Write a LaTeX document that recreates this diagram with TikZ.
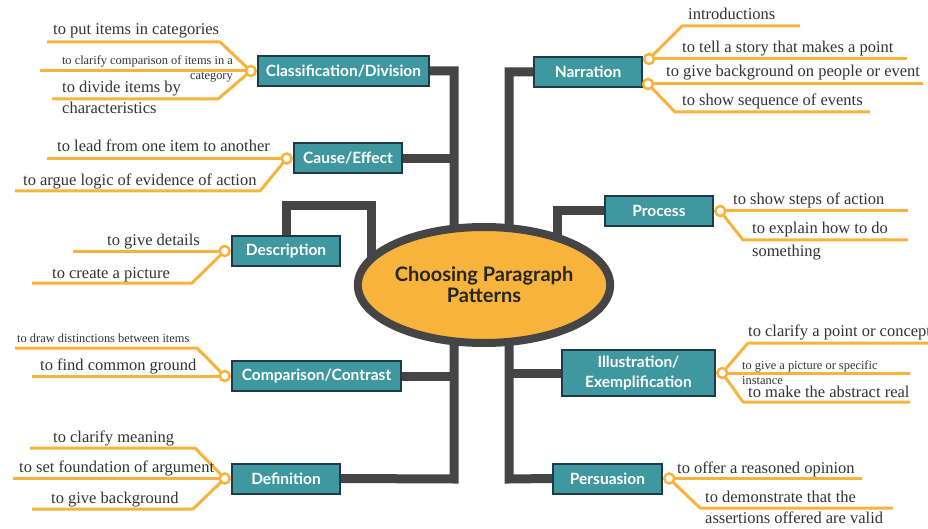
\documentclass[tikz,border=0pt]{standalone}
\usepackage{fontspec}
\setmainfont{Liberation Serif}
\newfontfamily\leaffont{Liberation Serif}
\newfontfamily\latofont{Lato}
\usetikzlibrary{shapes.geometric,positioning,backgrounds}
\definecolor{boxteal}{HTML}{3F989F}
\definecolor{boxedge}{HTML}{1D3B4C}
\definecolor{twigorange}{HTML}{F8B33D}
\definecolor{trunkgray}{HTML}{454545}
\definecolor{leafgray}{HTML}{333333}

\begin{document}
\begin{tikzpicture}[x=1pt,y=-1pt,
	topic/.style={draw=boxedge,line width=2pt,fill=boxteal,text=white,inner sep=0pt,
		font=\latofont\bfseries\fontsize{15.5}{20}\selectfont,minimum height=30pt,align=center},
	junc/.style={circle,draw=twigorange,fill=white,line width=2.5pt,minimum size=10pt,inner sep=0pt},
	trunk/.style={draw=trunkgray,line width=9pt},
	twig/.style={draw=twigorange,line width=3pt,line join=round},
	leaf/.style={anchor=base west,inner sep=0pt,text=leafgray,align=left,font=\leaffont\fontsize{16.5}{21}\selectfont},
	smallleaf/.style={leaf,font=\leaffont\fontsize{12.4}{15}\selectfont}]

\useasboundingbox (0,0) rectangle (928,529);

\node[ellipse,draw=trunkgray,line width=8pt,fill=twigorange,minimum width=250pt,minimum height=116pt,
	inner sep=0pt,align=center,text=black!85,font=\latofont\bfseries\fontsize{20}{21}\selectfont]
		(cp) at (484,285) {Choosing Paragraph\\Patterns};

\node[topic,minimum width=171pt] (cls) at (343.5,71)  {Classification/Division};
 \node[topic,minimum width=108pt] (cau) at (348,158.5) {Cause/Effect};
	\node[topic,minimum width=108pt] (des) at (286,251)   {Description};
\node[topic,minimum width=169pt] (cmp) at (316.5,376) {Comparison/Contrast};
	\node[topic,minimum width=108pt] (def) at (286,478.5) {Definition};
\node[topic,minimum width=108pt] (nar) at (588,72)    {Narration};
	\node[topic,minimum width=108pt] (pro) at (659,211)   {Process};
\node[topic,minimum width=153pt,minimum height=46pt] (ill) at (638.5,373) {Illustration/\\Exemplification};
	\node[topic,minimum width=109pt] (per) at (607.5,478.5) {Persuasion};

\node[junc] (jcl) [left=0pt of cls] {};
\node[junc] (jce) [left=0pt of cau] {};
\node[junc] (jde) [left=0pt of des] {};
\node[junc] (jcm) [left=0pt of cmp] {};
\node[junc] (jdf) [left=0pt of def] {};
\node[junc] (jn1) at (649,59) {};
\node[junc] (jn2) at (648,84) {};
\node[junc] (jpr) [right=0pt of pro] {};
\node[junc] (jil) [right=0pt of ill] {};
\node[junc] (jpe) [right=0pt of per] {};

\coordinate (lt) at (454,479);
\coordinate (rt) at (509,479);
\coordinate (dk) at (371,206);
\coordinate (pk) at (557,211);

\coordinate (cl1b) at (220,42);  \coordinate (cl1e) at (47,42);
\coordinate (cl2e) at (40,71);
\coordinate (cl3b) at (218,99);  \coordinate (cl3e) at (52,99);
\coordinate (ce1e) at (47,158.5);
\coordinate (ce2b) at (260,191); \coordinate (ce2e) at (15,191);
\coordinate (de1e) at (73,251);
\coordinate (de2b) at (192,283); \coordinate (de2e) at (32,283);
\coordinate (cm1b) at (197,348); \coordinate (cm1e) at (15,348);
\coordinate (cm2e) at (32,376);
\coordinate (df1b) at (195,448); \coordinate (df1e) at (30,448);
\coordinate (df2e) at (13,478.5);
\coordinate (df3b) at (193,509); \coordinate (df3e) at (32,509);
\coordinate (na1b) at (682,26);  \coordinate (na1e) at (800,26);
\coordinate (na2e) at (907,59);
\coordinate (na3e) at (923,84);
\coordinate (na4b) at (675,112); \coordinate (na4e) at (870,112);
\coordinate (pr1e) at (908,211);
\coordinate (pr2b) at (743,240); \coordinate (pr2e) at (908,240);
\coordinate (il1b) at (748,343); \coordinate (il1e) at (940,343);
\coordinate (il2e) at (910,373);
\coordinate (il3b) at (743,402); \coordinate (il3e) at (910,402);
\coordinate (pe1e) at (862,478.5);
\coordinate (pe2b) at (700,508); \coordinate (pe2e) at (893,508);

\node[leaf] (cl1t) at (53,35) {to put items in categories};
\node[smallleaf,anchor=base east,align=right] (cl2t) at (233,80) {to clarify comparison of items in a\\category};
\node[leaf] (cl3t) at (62,114) {to divide items by\\characteristics};
\node[leaf] (ce1t) at (57,152) {to lead from one item to another};
\node[leaf] (ce2t) at (23,186) {to argue logic of evidence of action};
\node[leaf] (de1t) at (107,245) {to give details};
\node[leaf] (de2t) at (52,278) {to create a picture};
\node[smallleaf] (cm1t) at (17,342) {to draw distinctions between items};
\node[leaf] (cm2t) at (40,370) {to find common ground};
\node[leaf] (df1t) at (53,442) {to clarify meaning};
\node[leaf] (df2t) at (19,472) {to set foundation of argument};
\node[leaf] (df3t) at (51,503) {to give background};
\node[leaf] (na1t) at (688,20) {introductions};
\node[leaf] (na2t) at (682,53) {to tell a story that makes a point};
\node[leaf] (na3t) at (666,77) {to give background on people or event};
\node[leaf] (na4t) at (682,106) {to show sequence of events};
\node[leaf] (pr1t) at (733,205) {to show steps of action};
\node[leaf,font=\leaffont\fontsize{16.5}{23}\selectfont] (pr2t) at (752,257) {to explain how to do\\something};
\node[leaf] (il1t) at (748,336) {to clarify a point or concept};
\node[smallleaf] (il2t) at (742,384) {to give a picture or specific\\instance};
\node[leaf] (il3t) at (748,397) {to make the abstract real};
\node[leaf] (pe1t) at (677,473) {to offer a reasoned opinion};
\node[leaf] (pe2t) at (705,523) {to demonstrate that the\\assertions offered are valid};

\begin{scope}[on background layer]
\fill[white] (0,0) rectangle (928,529);
	\draw[trunk] (cls.east) -| (lt) -- (def.east);
	\draw[trunk] (cau.east) -- (cau.east -| lt);
	\draw[trunk] (cmp.east) -- (cmp.east -| lt);
	\draw[trunk] (des.north) |- (dk) -- (dk |- cp.center);
	\draw[trunk] (nar.west) -| (rt) -- (per.west);
	\draw[trunk] (ill.west) -- (ill.west -| rt);
	\draw[trunk] (pro.west) -- (pk) -- (pk |- cp.center);

\draw[twig] (jcl.center) -- (cl1b) -- (cl1e);
\draw[twig] (jcl.center) -- (cl2e);
\draw[twig] (jcl.center) -- (cl3b) -- (cl3e);
\draw[twig] (jce.center) -- (ce1e);
\draw[twig] (jce.center) -- (ce2b) -- (ce2e);
\draw[twig] (jde.center) -- (de1e);
\draw[twig] (jde.center) -- (de2b) -- (de2e);
\draw[twig] (jcm.center) -- (cm1b) -- (cm1e);
\draw[twig] (jcm.center) -- (cm2e);
\draw[twig] (jdf.center) -- (df1b) -- (df1e);
\draw[twig] (jdf.center) -- (df2e);
\draw[twig] (jdf.center) -- (df3b) -- (df3e);
\draw[twig] (jn1.center) -- (na1b) -- (na1e);
\draw[twig] (jn1.center) -- (na2e);
\draw[twig] (jn2.center) -- (na3e);
\draw[twig] (jn2.center) -- (na4b) -- (na4e);
\draw[twig] (jpr.center) -- (pr1e);
\draw[twig] (jpr.center) -- (pr2b) -- (pr2e);
\draw[twig] (jil.center) -- (il1b) -- (il1e);
\draw[twig] (jil.center) -- (il2e);
\draw[twig] (jil.center) -- (il3b) -- (il3e);
\draw[twig] (jpe.center) -- (pe1e);
\draw[twig] (jpe.center) -- (pe2b) -- (pe2e);
\end{scope}

\end{tikzpicture}
\end{document}
